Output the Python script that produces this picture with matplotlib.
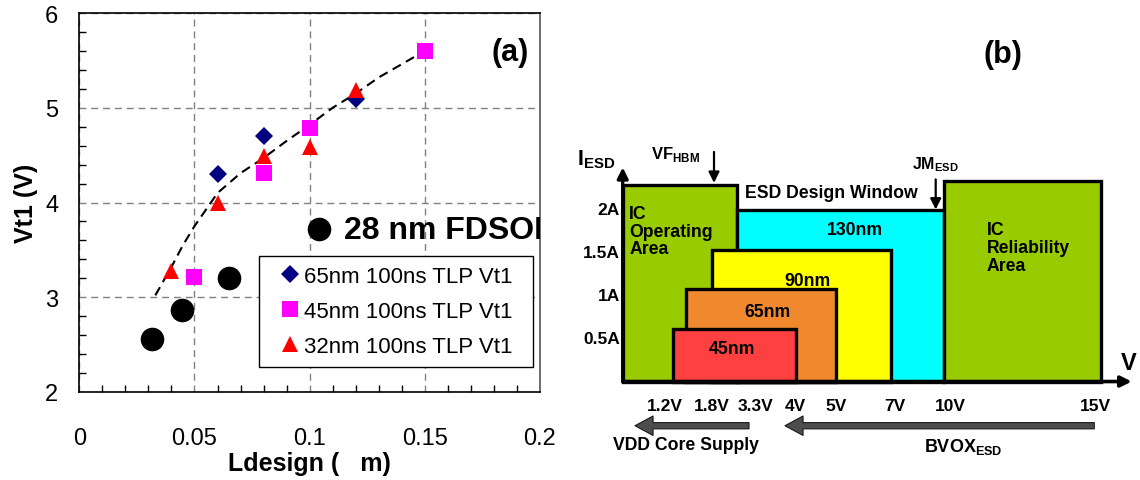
import matplotlib
matplotlib.use('Agg')
import matplotlib.pyplot as plt
from matplotlib.patches import Rectangle
from matplotlib.ticker import MultipleLocator, FormatStrFormatter

plt.rcParams['font.family'] = ['Liberation Sans', 'DejaVu Sans']
plt.rcParams['mathtext.fontset'] = 'custom'
plt.rcParams['mathtext.rm'] = 'Liberation Sans'
plt.rcParams['mathtext.bf'] = 'Liberation Sans:bold'

# ---- panel (a): Vt1 vs Ldesign ----
l65 = [0.06, 0.08, 0.12]
vt65 = [4.30, 4.70, 5.09]
l45 = [0.05, 0.08, 0.10, 0.15]
vt45 = [3.21, 4.31, 4.79, 5.60]
l32 = [0.04, 0.06, 0.08, 0.10, 0.12]
vt32 = [3.28, 3.99, 4.49, 4.59, 5.19]
l28 = [0.0314, 0.0447, 0.0649]
vt28 = [2.56, 2.87, 3.20]
# dashed trend curve
fit_x = [0.033, 0.040, 0.045, 0.050, 0.060, 0.070, 0.080, 0.090,
         0.100, 0.110, 0.120, 0.130, 0.140, 0.150]
fit_y = [3.02, 3.32, 3.55, 3.75, 4.10, 4.31, 4.47, 4.65,
         4.82, 5.00, 5.15, 5.32, 5.46, 5.60]
series_labels = ['65nm 100ns TLP Vt1', '45nm 100ns TLP Vt1', '32nm 100ns TLP Vt1']

# ---- panel (b): ESD design window diagram ----
block_names = ['IC\nOperating\nArea', '130nm', '90nm', '65nm', '45nm',
               'IC\nReliability\nArea']
block_left = [0, 114, 89.6, 63.3, 50.6, 321.3]
block_right = [114, 321.3, 268, 213.3, 173, 478]
block_top = [2.28, 2.0, 1.53, 1.075, 0.61, 2.33]
block_colors = ['#99cc00', '#00ffff', '#ffff00', '#f0882e', '#ff4040', '#99cc00']
name_x = [6.6, 232.3, 184.8, 144.6, 109.6, 364]
name_y = [1.747, 1.77, 1.18, 0.81, 0.38, 1.56]
name_ha = ['left', 'center', 'center', 'center', 'center', 'left']
current_ticks = [0.5, 1.0, 1.5, 2.0]
current_labels = ['0.5A', '1A', '1.5A', '2A']
volt_pos = [42.3, 89, 133.3, 172.3, 213, 272.3, 327.3, 472.3]
volt_labels = ['1.2V', '1.8V', '3.3V', '4V', '5V', '7V', '10V', '15V']

fig = plt.figure(figsize=(11.4, 4.81), dpi=100)

# ================= panel (a) =================
ax = fig.add_axes([79.3 / 1140, 88 / 481, 460.7 / 1140, 379 / 481])

ax.plot(fit_x, fit_y, color='black', lw=1.5, linestyle=(0, (4.5, 2.8)), zorder=2)
ax.plot(l28, vt28, 'o', color='black', ms=17, mew=0, zorder=3)
h65, = ax.plot(l65, vt65, 'D', color='#000080', ms=9, mew=0, zorder=4)
h45, = ax.plot(l45, vt45, 's', color='#ff00ff', ms=11, mew=0, zorder=4)
h32, = ax.plot(l32, vt32, '^', color='#ff0000', ms=12, mew=0, zorder=5)

ax.set_xlim(0, 0.2)
ax.set_ylim(2, 6)
ax.xaxis.set_major_locator(MultipleLocator(0.05))
ax.xaxis.set_minor_locator(MultipleLocator(0.01))
ax.yaxis.set_major_locator(MultipleLocator(1))
ax.yaxis.set_minor_locator(MultipleLocator(0.2))
ax.xaxis.set_major_formatter(FormatStrFormatter('%g'))
ax.tick_params(which='both', direction='in', top=False, right=False)
ax.tick_params(which='major', length=0, labelsize=17)
ax.tick_params(axis='x', which='major', pad=25)
ax.tick_params(axis='y', which='major', pad=15)
ax.tick_params(which='minor', length=5, width=1)
ax.grid(True, which='major', color='#808080', lw=1, linestyle=(0, (5, 3.5)))
for s in ax.spines.values():
    s.set_linewidth(1.2)
    s.set_color('black')
ax.spines['right'].set_color('#555555')

ax.set_xlabel('Ldesign (   m)', fontsize=18, fontweight='bold', labelpad=2)
ax.set_ylabel('Vt1 (V)', fontsize=18, fontweight='bold', labelpad=5)

leg = ax.legend([h65, h45, h32], series_labels, loc='lower left',
                bbox_to_anchor=(0.389, 0.066, 0.596, 0.317), mode='expand',
                fontsize=16, frameon=True, fancybox=False, framealpha=1,
                edgecolor='black', borderpad=0.45, labelspacing=0.63,
                handlelength=1.9, handletextpad=-0.3, borderaxespad=0)
leg.get_frame().set_linewidth(1.0)

ax.plot([0.1042], [3.72], 'o', color='black', ms=17, mew=0, clip_on=False)
ax.text(0.1149, 3.71, '28 nm FDSOI', fontsize=23, fontweight='bold',
        ha='left', va='center', clip_on=True, clip_box=ax.bbox)
ax.text(0.1871, 5.584, '(a)', fontsize=22, fontweight='bold', ha='center', va='center')

# ================= panel (b) =================
bx = fig.add_axes([560 / 1140, 0, 580 / 1140, 1])
bx.set_xlim(-62.7, 517.3)
bx.set_ylim(-1.145, 4.448)
bx.axis('off')

for i in range(len(block_names)):
    bx.add_patch(Rectangle((block_left[i], 0), block_right[i] - block_left[i],
                           block_top[i], facecolor=block_colors[i],
                           edgecolor='black', lw=2.4, joinstyle='miter', zorder=2 + i))
    bx.text(name_x[i], name_y[i], block_names[i], fontsize=12.7, fontweight='bold',
            ha=name_ha[i], va='center', linespacing=1.05, zorder=10)

# axes arrows
bx.annotate('', xy=(0, 2.49), xytext=(0, 0),
            arrowprops=dict(arrowstyle='-|>', lw=2.4, color='black',
                            mutation_scale=16, shrinkA=0, shrinkB=0), zorder=20)
bx.annotate('', xy=(509, 0), xytext=(0, 0),
            arrowprops=dict(arrowstyle='-|>', lw=2.6, color='black',
                            mutation_scale=16, shrinkA=0, shrinkB=0), zorder=20)

for y, lab in zip(current_ticks, current_labels):
    bx.text(-3, y, lab, fontsize=12.5, fontweight='bold', ha='right', va='center')
for x, lab in zip(volt_pos, volt_labels):
    bx.text(x, -0.273, lab, fontsize=12.5, fontweight='bold', ha='center', va='center')

bx.text(-45.4, 2.529, r'$\mathbf{I}_{\mathbf{ESD}}$', fontsize=15.5, ha='left', va='baseline')
bx.text(28, 2.595, r'$\mathbf{VF}_{\mathbf{HBM}}$', fontsize=12, ha='left', va='baseline')
bx.text(289, 2.479, r'$\mathbf{JM}_{\mathbf{ESD}}$', fontsize=11.5, ha='left', va='baseline')
bx.text(301.3, -0.805, r'$\mathbf{BVOX}_{\mathbf{ESD}}$', fontsize=13, ha='left', va='baseline')
bx.text(122.3, 2.2, 'ESD Design Window', fontsize=12.7, fontweight='bold', ha='left', va='center')
bx.text(63.3, -0.735, 'VDD Core Supply', fontsize=12.7, fontweight='bold', ha='center', va='center')
bx.text(506.3, 0.223, 'V', fontsize=17, fontweight='bold', ha='center', va='center')
bx.text(380.6, 3.808, '(b)', fontsize=22, fontweight='bold', ha='center', va='center')

# small marker arrows
bx.annotate('', xy=(91.3, 2.31), xytext=(91.3, 2.67),
            arrowprops=dict(arrowstyle='-|>', lw=1.6, color='black',
                            mutation_scale=16, shrinkA=0, shrinkB=0), zorder=20)
bx.annotate('', xy=(313, 2.0), xytext=(313, 2.35),
            arrowprops=dict(arrowstyle='-|>', lw=1.6, color='black',
                            mutation_scale=16, shrinkA=0, shrinkB=0), zorder=20)

# big grey arrows
big = dict(arrowstyle='simple,head_length=1.3,head_width=1.4,tail_width=0.45',
           facecolor='#4d4d4d', edgecolor='#1a1a1a', lw=0.8,
           mutation_scale=10, shrinkA=0, shrinkB=0)
bx.annotate('', xy=(12.3, -0.514), xytext=(126.3, -0.514), arrowprops=big)
bx.annotate('', xy=(162.3, -0.514), xytext=(471.6, -0.514), arrowprops=big)

fig.savefig('out.png', dpi=100)
